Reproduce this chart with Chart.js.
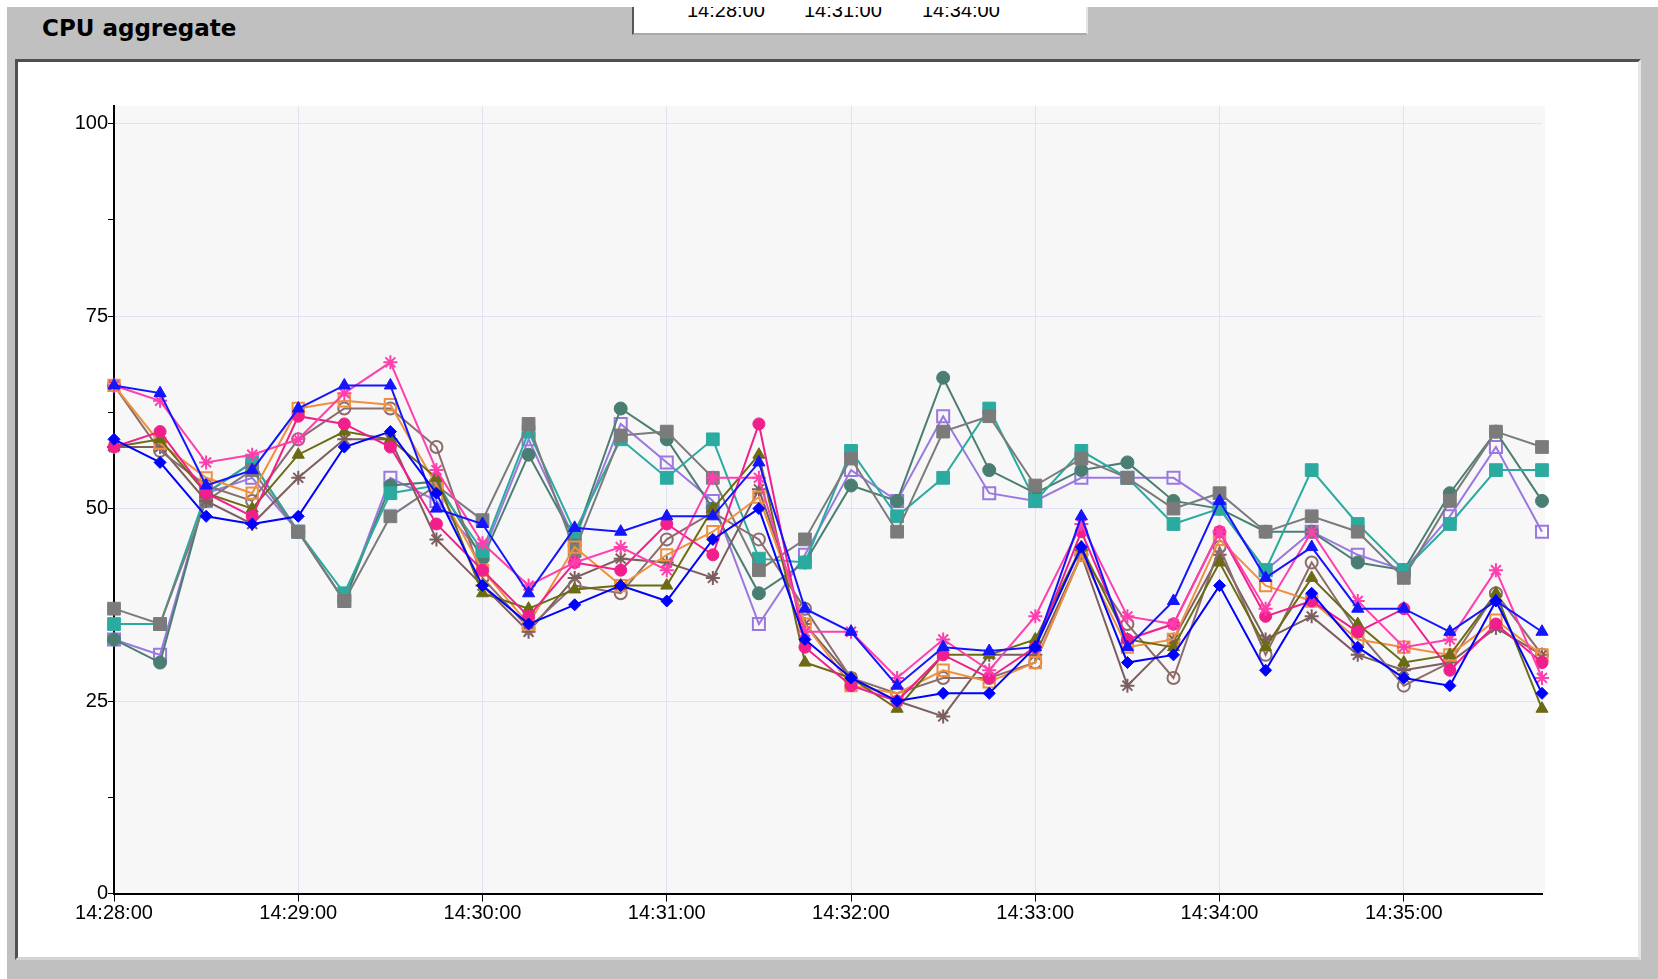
<!DOCTYPE html>
<html>
<head>
<meta charset="utf-8">
<title>CPU aggregate</title>
<script src="https://cdn.jsdelivr.net/npm/chart.js@4.4.1/dist/chart.umd.min.js"></script>
<style>
  body { margin: 0; width: 1658px; height: 979px; overflow: hidden; background: #fff; position: relative;
         font-family: "Liberation Sans", Arial, sans-serif; }
  #frame { position: absolute; left: 7px; top: 7px; right: 0; bottom: 0; background: #c0c0c0; overflow: hidden; }
  #title { position: absolute; left: 35px; top: 10px; font: bold 23px/23px "DejaVu Sans", sans-serif; color: #000; }
  #nav { position: absolute; left: 625px; top: -10px; width: 452px; height: 36px; background: #fff;
         border-left: 2px solid #555; border-right: 2px solid #e4e4e4; border-bottom: 2px solid #a8a8a8; overflow: hidden; }
  #nav span { position: absolute; top: 3px; font-size: 20px; line-height: 20px; color: #000; }
  #panel { position: absolute; left: 8px; top: 52px; width: 1620px; height: 895px; background: #fff;
           border-top: 3px solid #505050; border-left: 3px solid #505050;
           border-right: 3px solid #e6e6e6; border-bottom: 3px solid #d4d4d4; }
  #chart { position: absolute; left: 0; top: 0; }
</style>
</head>
<body>
<div id="frame">
  <div id="title">CPU aggregate</div>
  <div id="nav">
    <span style="left:53px">14:28:00</span>
    <span style="left:170px">14:31:00</span>
    <span style="left:288px">14:34:00</span>
  </div>
  <div id="panel"></div>
</div>
<canvas id="chart" width="1658" height="979"></canvas>
<script>
// sample times, every 15 s
const times = [
  '14:28:00', '14:28:15', '14:28:30', '14:28:45', '14:29:00', '14:29:15', '14:29:30', '14:29:45',
  '14:30:00', '14:30:15', '14:30:30', '14:30:45', '14:31:00', '14:31:15', '14:31:30', '14:31:45',
  '14:32:00', '14:32:15', '14:32:30', '14:32:45', '14:33:00', '14:33:15', '14:33:30', '14:33:45',
  '14:34:00', '14:34:15', '14:34:30', '14:34:45', '14:35:00', '14:35:15', '14:35:30', '14:35:45'
];
const yTicks = [0, 12.5, 25, 37.5, 50, 62.5, 75, 87.5, 100];

// CPU % per series
const blueDiamond    = [59, 56, 49, 48, 49, 58, 60, 52, 40, 35, 37.5, 40, 38, 46, 50, 33, 28, 25, 26, 26, 32, 45, 30, 31, 40, 29, 39, 32, 28, 27, 38, 26];
const blueTriangle   = [66, 65, 53, 55, 63, 66, 66, 50, 48, 39, 47.5, 47, 49, 49, 56, 37, 34, 27, 32, 31.5, 32, 49, 32, 38, 51, 41, 45, 37, 37, 34, 38, 34];
const pinkStar       = [66, 64, 56, 57, 59, 65, 69, 55, 45.5, 40, 43, 45, 42, 54, 54, 34, 34, 28, 33, 29, 36, 48, 36, 35, 47, 37, 47, 38, 32, 33, 42, 28];
const pinkCircle     = [58, 60, 52, 49, 62, 61, 58, 48, 42, 36, 43, 42, 48, 44, 61, 32, 27, 25, 31, 28, 32, 47, 33, 35, 47, 36, 38, 34, 37, 29, 35, 30];
const oliveTriangle  = [58, 59, 52, 50, 57, 60, 59, 54, 39, 37, 39.5, 40, 40, 50, 57, 30, 28, 24, 31, 31, 33, 45, 33, 32, 43, 32, 41, 35, 30, 31, 39, 24];
const orangeSquare   = [66, 58.5, 54, 52, 63, 64, 63.5, 53, 42, 35, 45, 40, 44, 47, 51.5, 35, 27, 26, 29, 27.5, 30, 44, 32, 33, 46, 40, 38, 33, 32, 31, 35.5, 31];
const brownCircle    = [66, 57.5, 53, 51, 59, 63, 63, 58, 41, 34.5, 40, 39, 46, 49.5, 46, 37, 28, 26, 28, 28, 30, 44, 35, 28, 45, 31, 43, 34, 27, 30, 39, 31];
const brownStar      = [58, 58, 51, 48, 54, 59, 59, 46, 40, 34, 41, 43.5, 43, 41, 52.5, 35, 28, 25, 23, 31, 31, 44, 27, 33, 44, 33, 36, 31, 29, 30, 34.5, 31];
const graySquare     = [37, 35, 51, 55, 47, 38, 49, 53, 48.5, 61, 44.5, 59.5, 60, 54, 42, 46, 56.5, 47, 60, 62, 53, 56.5, 54, 50, 52, 47, 49, 47, 41, 51, 60, 58];
const tealSquare     = [35, 35, 52, 56, 47, 39, 52, 53, 44.5, 60, 47, 59, 54, 59, 43.5, 43, 57.5, 49, 54, 63, 51, 57.5, 54, 48, 50, 42, 55, 48, 42, 48, 55, 55];
const darkTealCircle = [33, 30, 52, 56, 47, 38, 53, 53.5, 43.5, 57, 46, 63, 59, 50, 39, 43, 53, 51, 67, 55, 52, 55, 56, 51, 50, 47, 47, 43, 42, 52, 60, 51];
const lavenderSquare = [33, 31, 52, 54, 47, 38, 54, 51, 44, 59, 46, 61, 56, 51, 35, 44, 55, 51, 62, 52, 51, 54, 54, 54, 50, 42, 47, 44, 42, 49, 58, 47];

function series(label, data, color, style, radius, open) {
  return {
    label: label,
    data: data,
    borderColor: color,
    backgroundColor: color,
    borderWidth: 2,
    tension: 0,
    pointStyle: style,
    pointRadius: radius,
    pointHoverRadius: radius,
    pointBackgroundColor: open ? 'rgba(0,0,0,0)' : color,
    pointBorderColor: color,
    pointBorderWidth: (open || style === 'star') ? 2 : 1,
    clip: false
  };
}

// first dataset is drawn on top
const datasets = [
  series('blue diamond', blueDiamond, '#0000ff', 'rectRot', 6, false),
  series('blue triangle', blueTriangle, '#1414ff', 'triangle', 7, false),
  series('pink star', pinkStar, '#ff3fae', 'star', 7, false),
  series('pink circle', pinkCircle, '#f01f8c', 'circle', 6, false),
  series('olive triangle', oliveTriangle, '#6b6b14', 'triangle', 7, false),
  series('orange square', orangeSquare, '#ef9040', 'rect', 8, true),
  series('brown circle', brownCircle, '#8c6c6c', 'circle', 6, true),
  series('brown star', brownStar, '#7d5e5e', 'star', 7, false),
  series('gray square', graySquare, '#7b7b7b', 'rect', 9, false),
  series('teal square', tealSquare, '#2bab9f', 'rect', 9, false),
  series('dark teal circle', darkTealCircle, '#4b7e72', 'circle', 6.5, false),
  series('lavender square', lavenderSquare, '#9a78e0', 'rect', 8.5, true)
];

const plotBg = {
  id: 'plotBg',
  beforeDraw(chart) {
    const a = chart.chartArea;
    const ctx = chart.ctx;
    ctx.save();
    ctx.fillStyle = '#f7f7f7';
    ctx.fillRect(a.left, a.top, a.right - a.left + 3, a.bottom - a.top);
    ctx.restore();
  }
};

const tickFont = { family: '"Liberation Sans", Arial, sans-serif', size: 20 };
const gridColor = '#e2e2f6';

const config = {
  type: 'line',
  data: { labels: times, datasets: datasets },
  plugins: [plotBg],
  options: {
    responsive: false,
    devicePixelRatio: 1,
    animation: false,
    layout: { padding: { left: 14, right: 116, top: 106, bottom: 45.5 } },
    plugins: { legend: { display: false }, tooltip: { enabled: false } },
    scales: {
      x: {
        type: 'category',
        offset: false,
        border: { color: '#000', width: 2 },
        grid: {
          color: ctx => ctx.index % 4 === 0 ? gridColor : 'rgba(0,0,0,0)',
          tickColor: ctx => ctx.index % 4 === 0 ? '#000' : 'rgba(0,0,0,0)',
          tickLength: 8,
          lineWidth: 1
        },
        ticks: {
          autoSkip: false,
          maxRotation: 0,
          padding: 0,
          color: '#000',
          font: tickFont,
          callback: function (v, i) { return i % 4 === 0 ? this.getLabelForValue(v) : ''; }
        },
        afterFit(s) { s.height = 40; }
      },
      y: {
        min: 0,
        max: 102.3,
        border: { color: '#000', width: 2 },
        grid: {
          color: ctx => (ctx.tick && ctx.tick.value > 0 && ctx.tick.value % 25 === 0) ? gridColor : 'rgba(0,0,0,0)',
          tickColor: '#000',
          tickLength: 6,
          lineWidth: 1
        },
        ticks: {
          padding: 0,
          color: '#000',
          font: tickFont,
          callback: v => v % 25 === 0 ? v : ''
        },
        afterBuildTicks(s) { s.ticks = yTicks.map(v => ({ value: v })); },
        afterFit(s) { s.width = 100; }
      }
    }
  }
};

var cpuChart = new Chart(document.getElementById('chart'), config);
</script>
</body>
</html>
